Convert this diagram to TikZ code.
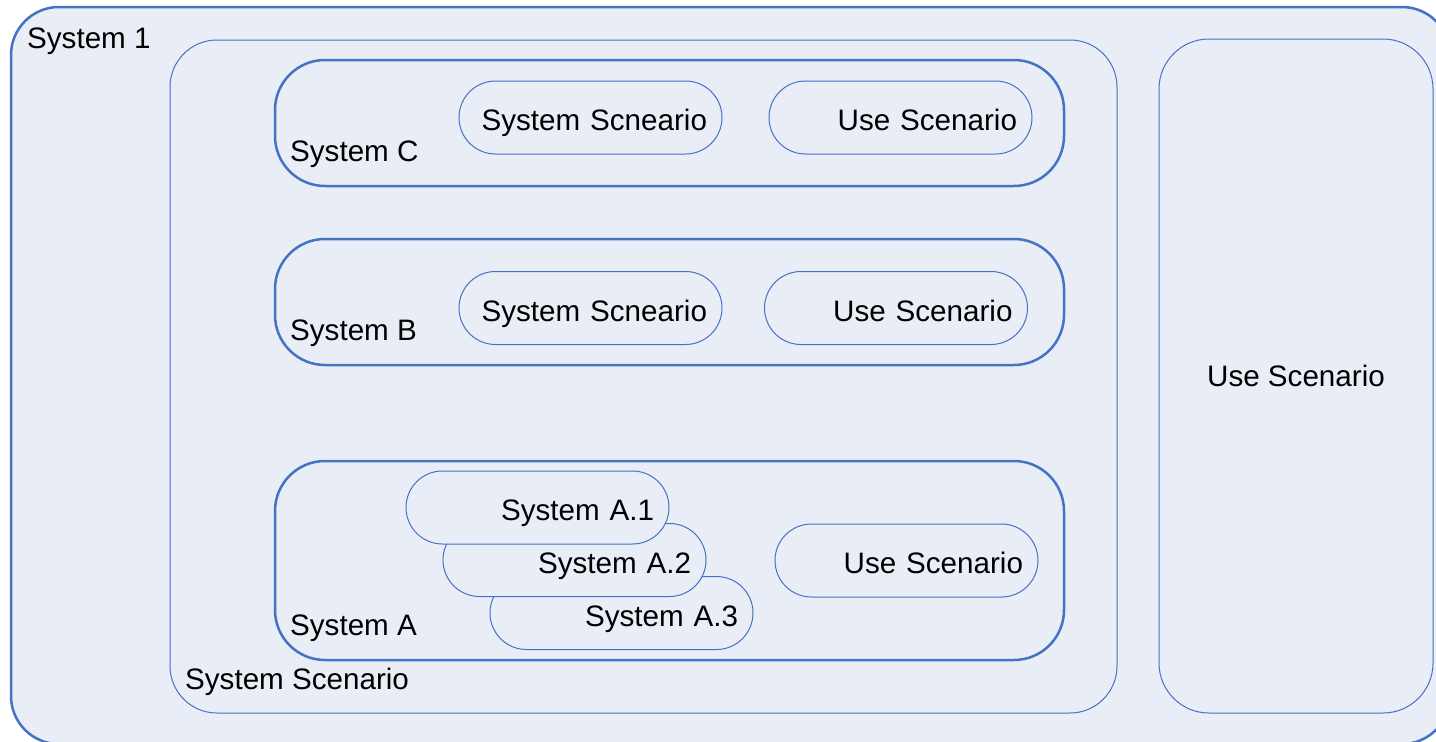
\documentclass[tikz,border=0pt]{standalone}
\usepackage{fontspec}
\setmainfont{Liberation Sans}
\definecolor{edge}{HTML}{4472C4}
\definecolor{bg}{HTML}{E9EDF6}
\begin{document}
\begin{tikzpicture}[x=1pt,y=-1pt,font=\fontsize{29.6}{34}\selectfont,
  thickbox/.style={draw=edge,fill=bg,rectangle,inner sep=0pt,line width=2.5pt},
  thinbox/.style={draw=edge,fill=bg,rectangle,inner sep=0pt,line width=1pt},
  pill/.style={thinbox,minimum width=263pt,minimum height=73pt,rounded corners=36.5pt,
    text width=233pt,align=right,inner xsep=15pt,text height=28pt,text depth=2pt},
  lbl/.style={inner sep=0pt,anchor=base west}]
\useasboundingbox (0,0) rectangle (1436,742);
\fill[white] (0,0) rectangle (1436,742);
% outer system
\node[thickbox,minimum width=1439pt,minimum height=737pt,rounded corners=48pt] (sys1) at (730.5,375.5) {};
\node[lbl] (sys1l) at (27,48) {System 1};
% system scenario container
\node[thinbox,minimum width=947pt,minimum height=673pt,rounded corners=47pt] (ss) at (643.5,376.5) {};
\node[lbl] (ssl) at (185,689) {System Scenario};
% right use scenario
\node[thinbox,minimum width=274pt,minimum height=674pt,rounded corners=50pt] (us) at (1296,376) {Use Scenario};
% System C
\node[thickbox,minimum width=789pt,minimum height=126pt,rounded corners=50pt] (sC) at (669.5,123) {};
\node[lbl] (sCl) at (290,161) {System C};
\node[pill] (cS) at (590.5,117.5) {System Scneario};
\node[pill] (cU) at (900.5,117.5) {Use Scenario};
% System B
\node[thickbox,minimum width=789pt,minimum height=126pt,rounded corners=50pt] (sB) at (669.5,302) {};
\node[lbl] (sBl) at (290,340) {System B};
\node[pill] (bS) at (590.5,308) {System Scneario};
\node[pill] (bU) at (896,308) {Use Scenario};
% System A
\node[thickbox,minimum width=789pt,minimum height=199pt,rounded corners=50pt] (sA) at (669.5,560.5) {};
\node[lbl] (sAl) at (290,635) {System A};
\node[pill] (a3) at (621.5,613) {System A.3};
\node[pill] (a2) at (574.5,560) {System A.2};
\node[pill] (a1) at (537.5,507.5) {System A.1};
\node[pill] (aU) at (906.5,560.5) {Use Scenario};
\end{tikzpicture}
\end{document}
